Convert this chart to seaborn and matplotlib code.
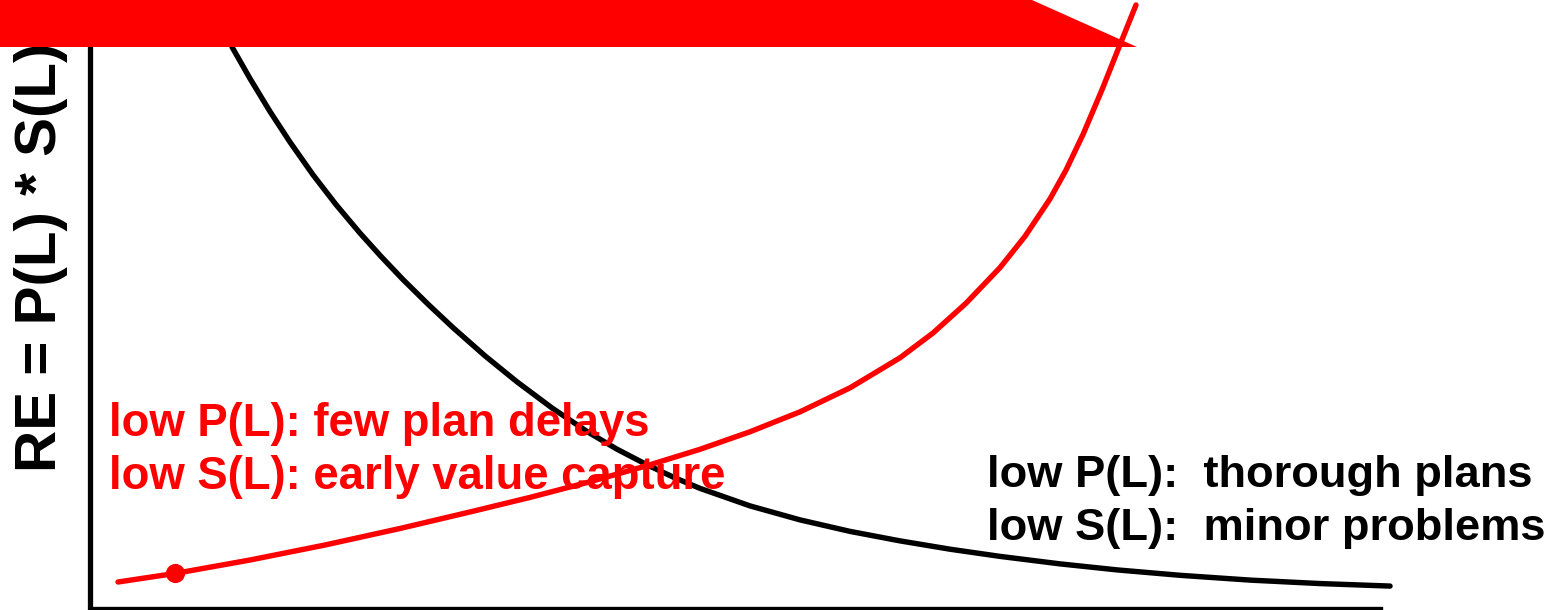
import matplotlib
matplotlib.use("Agg")

import pandas as pd
import seaborn as sns
from matplotlib import pyplot as plt
from matplotlib.patches import Polygon

# curves (x: 0-100 across the axis, y: 0-100 up the axis)
plan_x = [11.04, 12.43, 13.98, 15.53, 17.31, 19.09, 20.95, 22.58, 24.28, 26.22, 28.16,
          30.64, 33.11, 35.83, 38.54, 40.86, 43.18, 45.28, 47.29, 51.16, 55.04, 58.91,
          62.78, 66.65, 70.53, 75.17, 79.59, 84.47, 89.89, 95.31, 100.74]
plan_y = [100.0, 94.35, 88.44, 82.96, 77.10, 71.77, 66.65, 62.47, 58.33, 53.91, 49.70,
          44.64, 40.00, 35.30, 31.09, 27.92, 25.13, 22.85, 20.90, 17.76, 15.25, 13.19,
          11.49, 10.00, 8.71, 7.37, 6.29, 5.32, 4.46, 3.84, 3.39]

delay_x = [2.21, 6.62, 12.43, 18.24, 24.05, 29.47, 34.12, 38.54, 43.18, 47.29, 51.16,
           55.04, 58.91, 62.78, 65.34, 67.89, 70.53, 72.46, 74.40, 75.64, 76.96, 78.43,
           79.82, 81.06]
delay_y = [4.12, 5.65, 8.06, 10.75, 13.71, 16.67, 19.28, 21.95, 24.96, 27.90, 31.04,
           34.62, 38.92, 44.30, 48.75, 54.07, 60.47, 66.06, 72.78, 77.94, 84.34, 92.35,
           100.41, 107.53]

dot_x = [6.62]
dot_y = [5.65]

ylabel = "RE = P(L) * S(L)"
left_lines = ["low P(L): few plan delays", "low S(L): early value capture"]
right_lines = ["low P(L):  thorough plans", "low S(L):  minor problems"]

W, H = 1562, 610

sns.set_style("white")
plt.rcParams["font.family"] = ["Liberation Sans", "DejaVu Sans"]

fig = plt.figure(figsize=(W / 100, H / 100), dpi=100)
ax = fig.add_axes([89.5 / W, (H - 607.5) / H, 1291 / W, 560.5 / H])

plan = pd.DataFrame({"x": plan_x, "y": plan_y})
delay = pd.DataFrame({"x": delay_x, "y": delay_y})
sns.lineplot(data=plan, x="x", y="y", color="black", linewidth=3.9, estimator=None, ax=ax)
sns.lineplot(data=delay, x="x", y="y", color="red", linewidth=3.9, estimator=None, ax=ax)
for line in ax.lines:
    line.set_clip_on(False)
    line.set_solid_joinstyle("round")
sns.scatterplot(x=dot_x, y=dot_y, color="red", s=190, linewidth=0, ax=ax, clip_on=False, zorder=5)

ax.set_xlim(0, 100)
ax.set_ylim(-0.45, 100)
ax.set_xticks([])
ax.set_yticks([])
ax.set_xlabel("")
for side in ("top", "right"):
    ax.spines[side].set_visible(False)
ax.spines["left"].set_linewidth(3.8)
ax.spines["bottom"].set_linewidth(2.4)
ax.spines["left"].set_color("black")
ax.spines["bottom"].set_color("black")

ax.set_ylabel(ylabel, fontsize=42, fontweight="bold", color="black", rotation=90,
              ha="left", va="baseline", rotation_mode="anchor")
ax.yaxis.set_label_coords((56 - 89.5) / 1291, (607.5 - 472) / 560.5)

for i, txt in enumerate(left_lines):
    fig.text(109 / W, 1 - (436 + 53 * i) / H, txt, color="red", fontsize=32.8,
             fontweight="bold", ha="left", va="baseline")
for i, txt in enumerate(right_lines):
    fig.text(987 / W, 1 - (487 + 53 * i) / H, txt, color="black", fontsize=32.6,
             fontweight="bold", ha="left", va="baseline")

# red banner across the top
banner = Polygon([(0, 1), (1032 / W, 1), (1137 / W, 1 - 47 / H), (0, 1 - 47 / H)],
                 closed=True, transform=fig.transFigure, facecolor="red", edgecolor="none", zorder=3)
fig.add_artist(banner)

fig.savefig("out.png", dpi=100)
plt.close(fig)
